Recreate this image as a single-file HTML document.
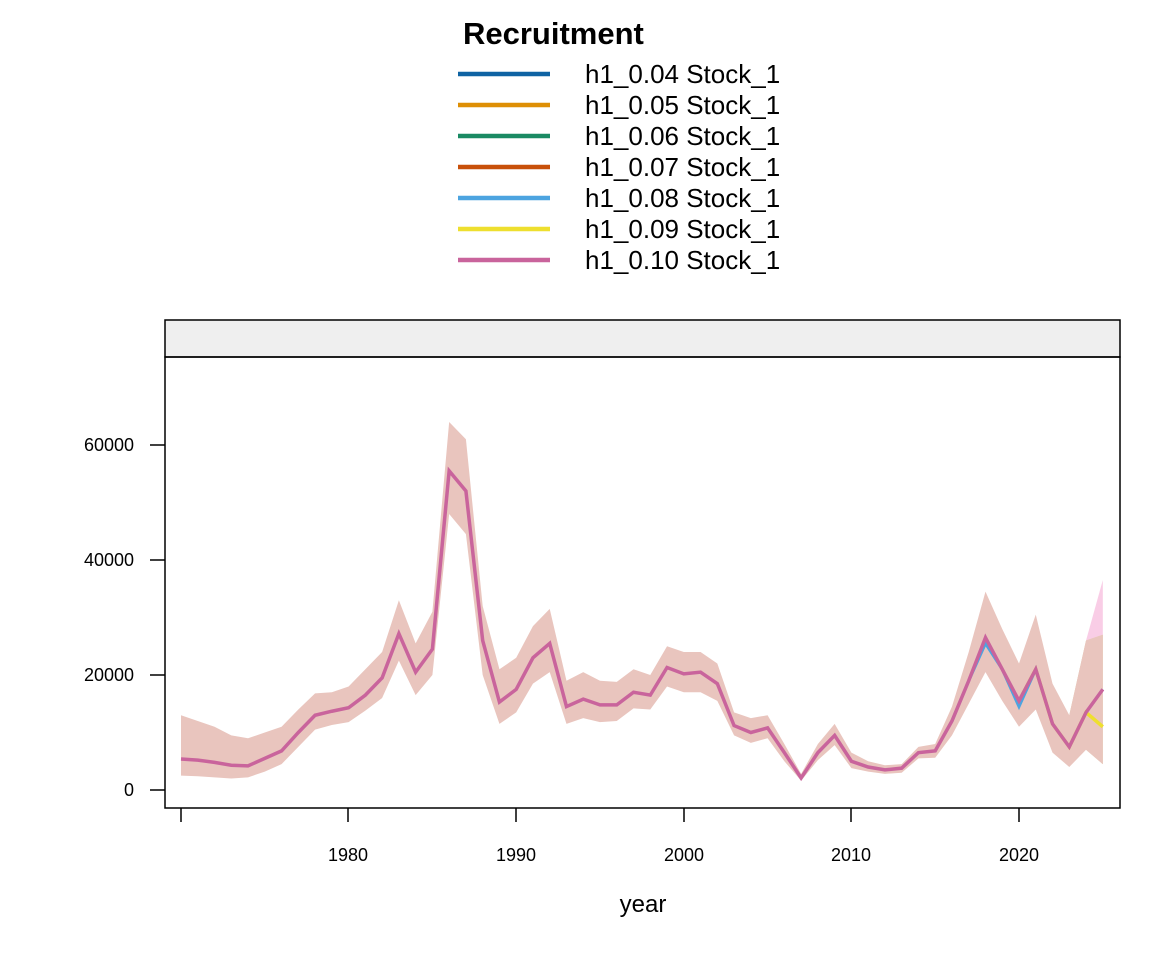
<!DOCTYPE html>
<html><head><meta charset="utf-8"><style>
body{margin:0;background:#fff}
svg{display:block;font-family:"Liberation Sans",Arial,sans-serif}
</style></head><body>
<svg id="s" width="1152" height="960" viewBox="0 0 1152 960">
<rect width="1152" height="960" fill="#fff"/>
<text x="463" y="44" font-size="31" font-weight="bold">Recruitment</text>
<g stroke-width="4.5">
<line x1="458" x2="550" y1="74" y2="74" stroke="#0F63A3"/>
<line x1="458" x2="550" y1="105" y2="105" stroke="#DE8F05"/>
<line x1="458" x2="550" y1="136" y2="136" stroke="#1A8A63"/>
<line x1="458" x2="550" y1="167" y2="167" stroke="#C8500A"/>
<line x1="458" x2="550" y1="198" y2="198" stroke="#4CA4E0"/>
<line x1="458" x2="550" y1="229" y2="229" stroke="#EEDF2F"/>
<line x1="458" x2="550" y1="260" y2="260" stroke="#C9649C"/>
</g>
<g font-size="26">
<text x="585" y="83">h1_0.04 Stock_1</text>
<text x="585" y="114">h1_0.05 Stock_1</text>
<text x="585" y="145">h1_0.06 Stock_1</text>
<text x="585" y="176">h1_0.07 Stock_1</text>
<text x="585" y="207">h1_0.08 Stock_1</text>
<text x="585" y="238">h1_0.09 Stock_1</text>
<text x="585" y="269">h1_0.10 Stock_1</text>
</g>
<rect x="165" y="320" width="955" height="37" fill="#efefef" stroke="#000" stroke-width="1.5"/>
<g id="plot"></g>
<rect x="165" y="357" width="955" height="451" fill="none" stroke="#000" stroke-width="1.5"/>
<g font-size="18" text-anchor="end">
<text x="134" y="796">0</text><text x="134" y="681">20000</text><text x="134" y="566">40000</text><text x="134" y="451">60000</text>
</g>
<g stroke="#000" stroke-width="1.5">
<line x1="150" x2="165" y1="790" y2="790"/><line x1="150" x2="165" y1="675" y2="675"/><line x1="150" x2="165" y1="560" y2="560"/><line x1="150" x2="165" y1="445" y2="445"/>
<line x1="181" x2="181" y1="808" y2="822"/><line x1="348" x2="348" y1="808" y2="822"/><line x1="516" x2="516" y1="808" y2="822"/><line x1="684" x2="684" y1="808" y2="822"/><line x1="851" x2="851" y1="808" y2="822"/><line x1="1019" x2="1019" y1="808" y2="822"/>
</g>
<g font-size="18" text-anchor="middle">
<text x="348" y="861">1980</text><text x="516" y="861">1990</text><text x="684" y="861">2000</text><text x="851" y="861">2010</text><text x="1019" y="861">2020</text>
</g>
<text x="643" y="912" font-size="24" text-anchor="middle">year</text>
</svg>
<script>
var v=[5400,5200,4800,4300,4200,5500,6800,10000,13000,13700,14300,16500,19500,27200,20500,24500,55500,52000,26000,15300,17500,23000,25500,14500,15800,14800,14800,17000,16500,21300,20200,20500,18500,11200,10000,10800,6500,2100,6500,9500,5000,4000,3500,3800,6500,6800,12000,19000,26500,21000,15500,21000,11500,7500,13500,17500];
var u=[13000,12000,11000,9500,9000,10000,11000,14000,16800,17000,18000,21000,24000,33000,25500,31000,64000,61000,32000,21000,23000,28500,31500,19000,20500,19000,18800,21000,20000,25000,24000,24000,22000,13500,12500,13000,8000,2800,8000,11500,6500,5000,4300,4500,7500,8000,14500,24000,34500,28000,22000,30500,18500,13000,26000,27000];
var l=[2500,2400,2200,2000,2200,3200,4500,7500,10500,11300,11800,13800,16000,22500,16500,20000,48000,44500,20000,11500,13500,18500,20500,11500,12500,11800,12000,14200,14000,18000,17000,17000,15500,9500,8200,9000,5000,1600,5200,7800,3800,3200,2800,3000,5500,5600,9500,15000,20500,15500,11000,14000,6500,4000,7000,4500];
function X(i){return 181+i*16.76}function Y(a){return 790-a*115/20000}
var up=u.map((a,i)=>X(i)+','+Y(a)),lo=l.map((a,i)=>X(i)+','+Y(a)).reverse();
var g=document.getElementById('plot'),ns='http://www.w3.org/2000/svg';
function el(t,at){var e=document.createElementNS(ns,t);for(var k in at)e.setAttribute(k,at[k]);g.appendChild(e);return e}
el('polygon',{points:X(53)+','+Y(13000)+' '+X(54)+','+Y(26000)+' '+X(55)+','+Y(36500)+' '+X(55)+','+Y(4500)+' '+X(54)+','+Y(7000),fill:'#f9cde6'});
el('polygon',{points:X(53)+','+Y(13000)+' '+X(54)+','+Y(26000)+' '+X(55)+','+Y(27000)+' '+X(55)+','+Y(4500)+' '+X(54)+','+Y(7000),fill:'#dcd9a0'});
el('polygon',{points:up.concat(lo).join(' '),fill:'#e9c5be'});
var v2=v.slice();v2[54]=13500;v2[55]=11000;
el('polyline',{points:v2.slice(50).map((a,i)=>X(i+50)+','+Y(a)).join(' '),fill:'none',stroke:'#EEDF2F','stroke-width':3.5});
var v3=v.slice();v3[48]=25500;v3[50]=14500;
el('polyline',{points:v3.slice(46).map((a,i)=>X(i+46)+','+Y(a)).join(' '),fill:'none',stroke:'#4CA4E0','stroke-width':3});
el('polyline',{points:v.map((a,i)=>X(i)+','+Y(a)).join(' '),fill:'none',stroke:'#C9649C','stroke-width':3.5});
</script>
</body></html>
